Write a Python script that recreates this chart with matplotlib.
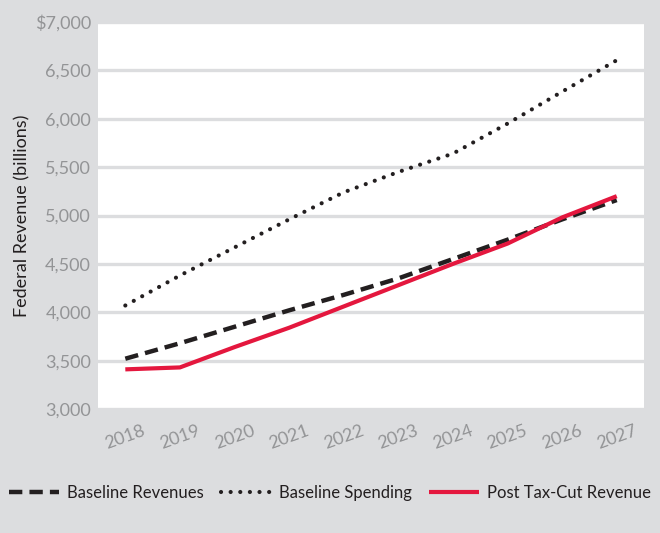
import numpy as np
import matplotlib
matplotlib.use("Agg")
import matplotlib.pyplot as plt

years = ["2018", "2019", "2020", "2021", "2022", "2023", "2024", "2025", "2026", "2027"]
baseline_revenues = [3520, 3680, 3850, 4020, 4180, 4350, 4550, 4750, 4960, 5160]
baseline_spending = [4070, 4380, 4670, 4960, 5240, 5450, 5640, 5950, 6280, 6605]
post_cut_revenue = [3410, 3430, 3640, 3840, 4060, 4280, 4500, 4710, 4980, 5200]

yticks = [3000, 3500, 4000, 4500, 5000, 5500, 6000, 6500, 7000]
ytick_labels = ["3,000", "3,500", "4,000", "4,500", "5,000", "5,500", "6,000", "6,500", "$7,000"]

plt.rcParams['font.family'] = ['Lato', 'DejaVu Sans']

bg = "#dcdddf"
fig = plt.figure(figsize=(6.6, 5.33), dpi=100, facecolor=bg)
ax = fig.add_axes([0.1485, 0.2326, 0.8273, 0.7261])
ax.set_facecolor("white")

x = np.arange(len(years))
ax.plot(x, baseline_revenues, color="#231f20", lw=3.2, linestyle=(0, (3, 1.6)),
        label="Baseline Revenues", zorder=3)
ax.plot(x, baseline_spending, color="#231f20", lw=3.0, linestyle=(0, (0.01, 2.3)),
        dash_capstyle="round", label="Baseline Spending", zorder=3)
ax.plot(x, post_cut_revenue, color="#e4173e", lw=3.0, solid_capstyle="butt",
        label="Post Tax-Cut Revenue", zorder=4)

ax.set_xlim(-0.5, len(years) - 0.5)
ax.set_ylim(3000, 7000)
ax.set_yticks(yticks)
ax.set_yticklabels(ytick_labels)
ax.set_xticks(x)
ax.set_xticklabels(years, rotation=20)
ax.tick_params(length=0, labelsize=13, labelcolor="#939496")
ax.tick_params(axis="y", pad=5)
ax.tick_params(axis="x", pad=10)
for s in ax.spines.values():
    s.set_visible(False)
ax.grid(axis="y", color=bg, lw=2.4)
ax.set_axisbelow(True)
ax.set_ylabel("Federal Revenue (billions)", fontsize=13, color="#231f20", labelpad=3)

fig.legend(loc="center", bbox_to_anchor=(0.5, 0.075), ncol=3, frameon=False,
           fontsize=12, handlelength=3.0, handletextpad=0.5, columnspacing=1.0,
           labelcolor="#231f20")

fig.savefig("out.png", dpi=100, facecolor=bg)
